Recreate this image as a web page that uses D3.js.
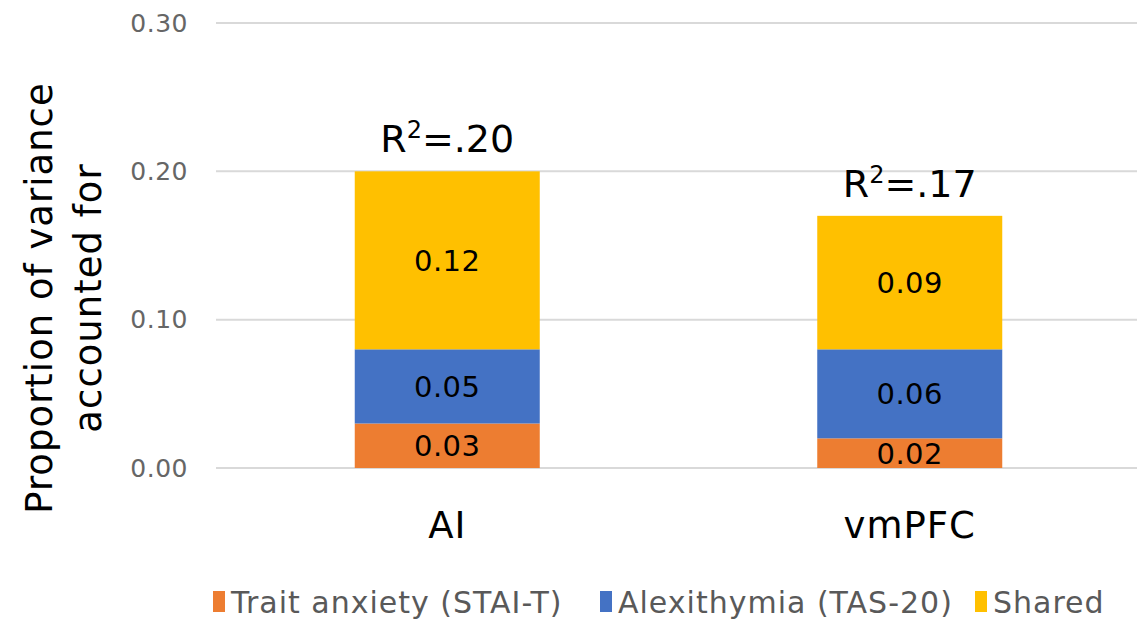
<!DOCTYPE html>
<html>
<head>
<meta charset="utf-8">
<script src="https://cdn.jsdelivr.net/npm/d3@7"></script>
<style>
  html, body { margin: 0; padding: 0; background: #fff; }
  svg { display: block; font-family: "DejaVu Sans", sans-serif; }
</style>
</head>
<body>
<svg id="chart" width="1137" height="627"></svg>
<script>
// Regions and the variance components for each
const categories = ["AI", "vmPFC"];
const seriesNames = ["Trait anxiety (STAI-T)", "Alexithymia (TAS-20)", "Shared"];
const traitAnxiety = [0.03, 0.02];
const alexithymia = [0.05, 0.06];
const shared = [0.12, 0.09];
const yTicks = [0.00, 0.10, 0.20, 0.30];
const colors = ["#ED7D31", "#4472C4", "#FFC000"];

const rows = categories.map((c, i) => ({
  category: c,
  "Trait anxiety (STAI-T)": traitAnxiety[i],
  "Alexithymia (TAS-20)": alexithymia[i],
  "Shared": shared[i]
}));

const svg = d3.select("#chart");
const plot = { left: 216, right: 1141, top: 23, bottom: 468 };

const x = d3.scaleBand().domain(categories).range([plot.left, plot.right]).padding(0);
const barW = x.bandwidth() * 0.4;
const y = d3.scaleLinear().domain([0, 0.30]).range([plot.bottom, plot.top]);
const color = d3.scaleOrdinal().domain(seriesNames).range(colors);

// Gridlines
svg.append("g").selectAll("line").data(yTicks).join("line")
  .attr("x1", plot.left).attr("x2", plot.right)
  .attr("y1", d => y(d)).attr("y2", d => y(d))
  .attr("stroke", "#d9d9d9").attr("stroke-width", 2);

// Y axis tick labels
const yAxis = d3.axisLeft(y).tickValues(yTicks).tickFormat(d3.format(".2f")).tickSize(0).tickPadding(0);
const gy = svg.append("g").attr("transform", `translate(${plot.left - 28},0)`).call(yAxis);
gy.select(".domain").remove();
gy.selectAll("text").attr("font-size", 25).attr("fill", "#666")
  .attr("letter-spacing", 0.5)
  .attr("font-family", "DejaVu Sans, sans-serif");

// Stacked bars
const stack = d3.stack().keys(seriesNames)(rows);
const layers = svg.append("g").selectAll("g").data(stack).join("g")
  .attr("fill", d => color(d.key));
layers.selectAll("rect").data(d => d).join("rect")
  .attr("x", d => x(d.data.category) + (x.bandwidth() - barW) / 2)
  .attr("width", barW)
  .attr("y", d => y(d[1]))
  .attr("height", d => y(d[0]) - y(d[1]));

// Segment value labels
const fmt = d3.format(".2f");
const labels = svg.append("g").selectAll("g").data(stack).join("g");
labels.selectAll("text").data(d => d).join("text")
  .attr("x", d => x(d.data.category) + x.bandwidth() / 2)
  .attr("y", d => (y(d[0]) + y(d[1])) / 2)
  .attr("dy", "0.36em")
  .attr("text-anchor", "middle")
  .attr("font-size", 29)
  .attr("letter-spacing", 0.5)
  .attr("fill", "#000")
  .text(d => fmt(d[1] - d[0]));

// Total R² labels above bars
const totals = rows.map((r, i) => traitAnxiety[i] + alexithymia[i] + shared[i]);
const r2 = svg.append("g").selectAll("text").data(rows).join("text")
  .attr("x", d => x(d.category) + x.bandwidth() / 2)
  .attr("y", (d, i) => y(totals[i]) - 19)
  .attr("text-anchor", "middle")
  .attr("font-size", 38)
  .attr("fill", "#000");
r2.append("tspan").text("R");
r2.append("tspan").attr("font-size", 24).attr("dy", -14).text("2");
r2.append("tspan").attr("dy", 14).text((d, i) => "=" + fmt(totals[i]).replace(/^0/, ""));

// Category labels
svg.append("g").selectAll("text").data(categories).join("text")
  .attr("x", d => x(d) + x.bandwidth() / 2)
  .attr("y", 538)
  .attr("text-anchor", "middle")
  .attr("font-size", 37)
  .attr("letter-spacing", 1)
  .attr("fill", "#000")
  .text(d => d);

// Y axis title (two lines)
const title = svg.append("text")
  .attr("transform", "translate(62,298) rotate(-90)")
  .attr("text-anchor", "middle")
  .attr("font-size", 37)
  .attr("letter-spacing", 1)
  .attr("fill", "#000");
title.append("tspan").attr("x", 0).attr("y", -10).text("Proportion of variance");
title.append("tspan").attr("x", 0).attr("y", 39).text("accounted for");

// Legend
const legendX = [213, 600, 975];
const legend = svg.append("g").selectAll("g").data(seriesNames).join("g")
  .attr("transform", (d, i) => `translate(${legendX[i]},0)`);
legend.append("rect").attr("x", 0).attr("y", 591).attr("width", 12).attr("height", 21)
  .attr("fill", d => color(d));
legend.append("text").attr("x", 18).attr("y", 602).attr("dy", "0.36em")
  .attr("font-size", 30).attr("letter-spacing", 1).attr("fill", "#595959")
  .text(d => d);
</script>
</body>
</html>
